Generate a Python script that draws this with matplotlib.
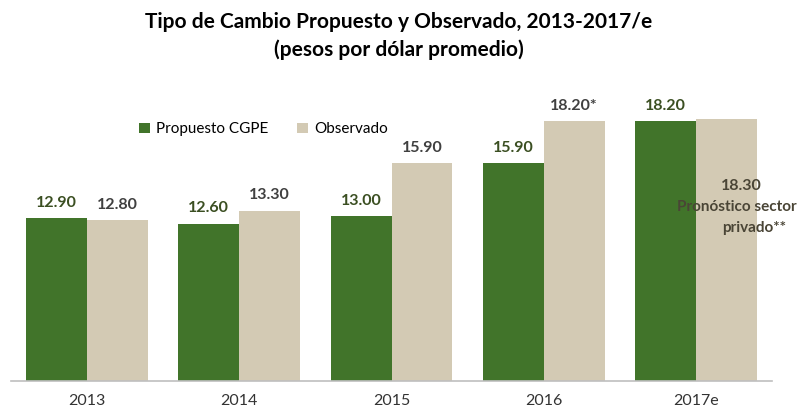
import numpy as np
import matplotlib.pyplot as plt

plt.rcParams['font.family'] = ['Lato', 'DejaVu Sans']

years = ['2013', '2014', '2015', '2016', '2017e']
propuesto = [12.90, 12.60, 13.00, 15.90, 18.20]
observado = [12.80, 13.30, 15.90, 18.20, 18.30]
prop_labels = ['12.90', '12.60', '13.00', '15.90', '18.20']
obs_labels = ['12.80', '13.30', '15.90', '18.20*', '18.30']
nota_2017 = ['Pronóstico sector', 'privado**']

green = '#41742a'
beige = '#d3cab4'

fig = plt.figure(figsize=(7.98, 4.11), dpi=100)
ax = fig.add_axes([11/798, 30/411, 761/798, 293/411])

x = np.arange(len(years))
w = 0.40
ax.bar(x - w/2, propuesto, w, color=green, label='Propuesto CGPE')
ax.bar(x + w/2, observado, w, color=beige, label='Observado')

ax.set_ylim(4, 20)
ax.set_xlim(-0.5, 4.5)

for xi, v, t in zip(x, propuesto, prop_labels):
    ax.text(xi - w/2, v + 0.45, t, ha='center', va='bottom', fontsize=11.5,
            fontweight='bold', color='#3b4f22')
last = len(x) - 1
for i, (xi, v, t) in enumerate(zip(x, observado, obs_labels)):
    if i == last:
        ax.text(xi + w/2 + 0.1, 14.25, t, ha='center', va='bottom', fontsize=11.5,
                fontweight='bold', color='#4a4536')
    else:
        ax.text(xi + w/2, v + 0.45, t, ha='center', va='bottom', fontsize=11.5,
                fontweight='bold', color='#404040')
# nota del pronostico privado dentro de la barra 2017e
ax.text(last + w/2 + 0.07, 13.1, nota_2017[0], ha='center', va='bottom',
        fontsize=11, fontweight='bold', color='#4a4536')
ax.text(last + w/2 + 0.18, 11.95, nota_2017[1], ha='center', va='bottom',
        fontsize=11, fontweight='bold', color='#4a4536')

ax.set_xticks(x)
ax.set_xticklabels(years, fontsize=11.5, color='#333333')
ax.tick_params(axis='x', length=0, pad=9)
ax.set_yticks([])
for s in ['top', 'right', 'left']:
    ax.spines[s].set_visible(False)
ax.spines['bottom'].set_color('#bfbfbf')
ax.spines['bottom'].set_linewidth(1.2)

ax.legend(loc='upper left', bbox_to_anchor=(0.15, 0.93), ncol=2, frameon=False,
          fontsize=11, handlelength=0.7, handleheight=0.7, handletextpad=0.4,
          columnspacing=1.9)

fig.text(0.5, 0.972, 'Tipo de Cambio Propuesto y Observado, 2013-2017/e\n(pesos por dólar promedio)',
         ha='center', va='top', fontsize=15, fontweight='bold', linespacing=1.45)

fig.savefig('out.png', dpi=100)
